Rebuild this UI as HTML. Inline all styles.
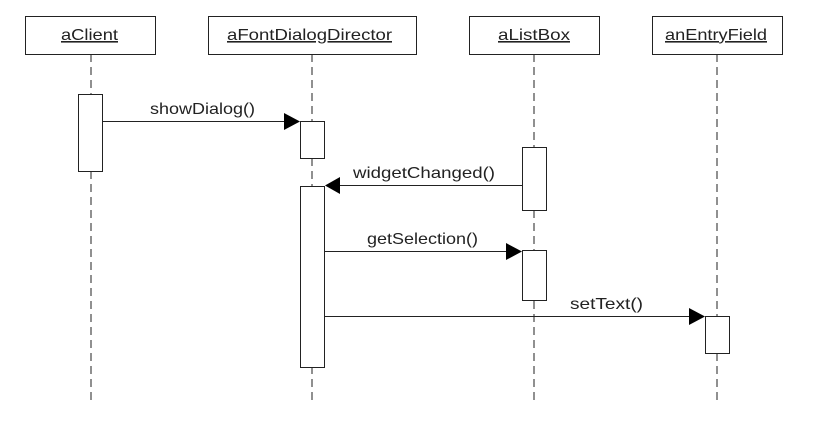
<!DOCTYPE html>
<html><head><style>body{margin:0;background:#fff}</style></head><body>
<svg width="820" height="424" xmlns="http://www.w3.org/2000/svg" font-family="Liberation Sans, sans-serif" font-size="16">
<rect width="820" height="424" fill="#fff"/>
<g stroke="#222" stroke-width="1" stroke-dasharray="8,5" fill="none">
<line x1="91" y1="54" x2="91" y2="405"/>
<line x1="312" y1="54" x2="312" y2="405"/>
<line x1="534" y1="54" x2="534" y2="405"/>
<line x1="717" y1="54" x2="717" y2="405"/>
</g>
<g stroke="#222" stroke-width="1" fill="#fff">
<rect x="25.5" y="16.5" width="130" height="38"/>
<rect x="208.5" y="16.5" width="208" height="38"/>
<rect x="469.5" y="16.5" width="130" height="38"/>
<rect x="652.5" y="16.5" width="130" height="38"/>
<rect x="78.5" y="94.5" width="24" height="77"/>
<rect x="300.5" y="121.5" width="24" height="37"/>
<rect x="300.5" y="186.5" width="24" height="181"/>
<rect x="522.5" y="147.5" width="24" height="63"/>
<rect x="522.5" y="250.5" width="24" height="50"/>
<rect x="705.5" y="316.5" width="24" height="37"/>
</g>
<g stroke="#222" stroke-width="1">
<line x1="103" y1="121.5" x2="286" y2="121.5"/>
<line x1="338" y1="185.5" x2="522" y2="185.5"/>
<line x1="325" y1="251.5" x2="508" y2="251.5"/>
<line x1="325" y1="316.5" x2="691" y2="316.5"/>
</g>
<g fill="#000">
<polygon points="284,113 300,121.5 284,130"/>
<polygon points="340,177 325,185.5 340,194"/>
<polygon points="506,243 522,251.5 506,260"/>
<polygon points="689,308 705,316.5 689,325"/>
</g>
<g fill="#222" lengthAdjust="spacingAndGlyphs">
<text x="61" y="40" textLength="57" lengthAdjust="spacingAndGlyphs" text-decoration="underline">aClient</text>
<text x="227" y="40" textLength="165" lengthAdjust="spacingAndGlyphs" text-decoration="underline">aFontDialogDirector</text>
<text x="498" y="40" textLength="72" lengthAdjust="spacingAndGlyphs" text-decoration="underline">aListBox</text>
<text x="665" y="40" textLength="102" lengthAdjust="spacingAndGlyphs" text-decoration="underline">anEntryField</text>
<text x="150" y="114" textLength="105" lengthAdjust="spacingAndGlyphs">showDialog()</text>
<text x="353" y="178" textLength="142" lengthAdjust="spacingAndGlyphs">widgetChanged()</text>
<text x="367" y="244" textLength="111" lengthAdjust="spacingAndGlyphs">getSelection()</text>
<text x="570" y="309" textLength="73" lengthAdjust="spacingAndGlyphs">setText()</text>
</g>
</svg>
</body></html>
